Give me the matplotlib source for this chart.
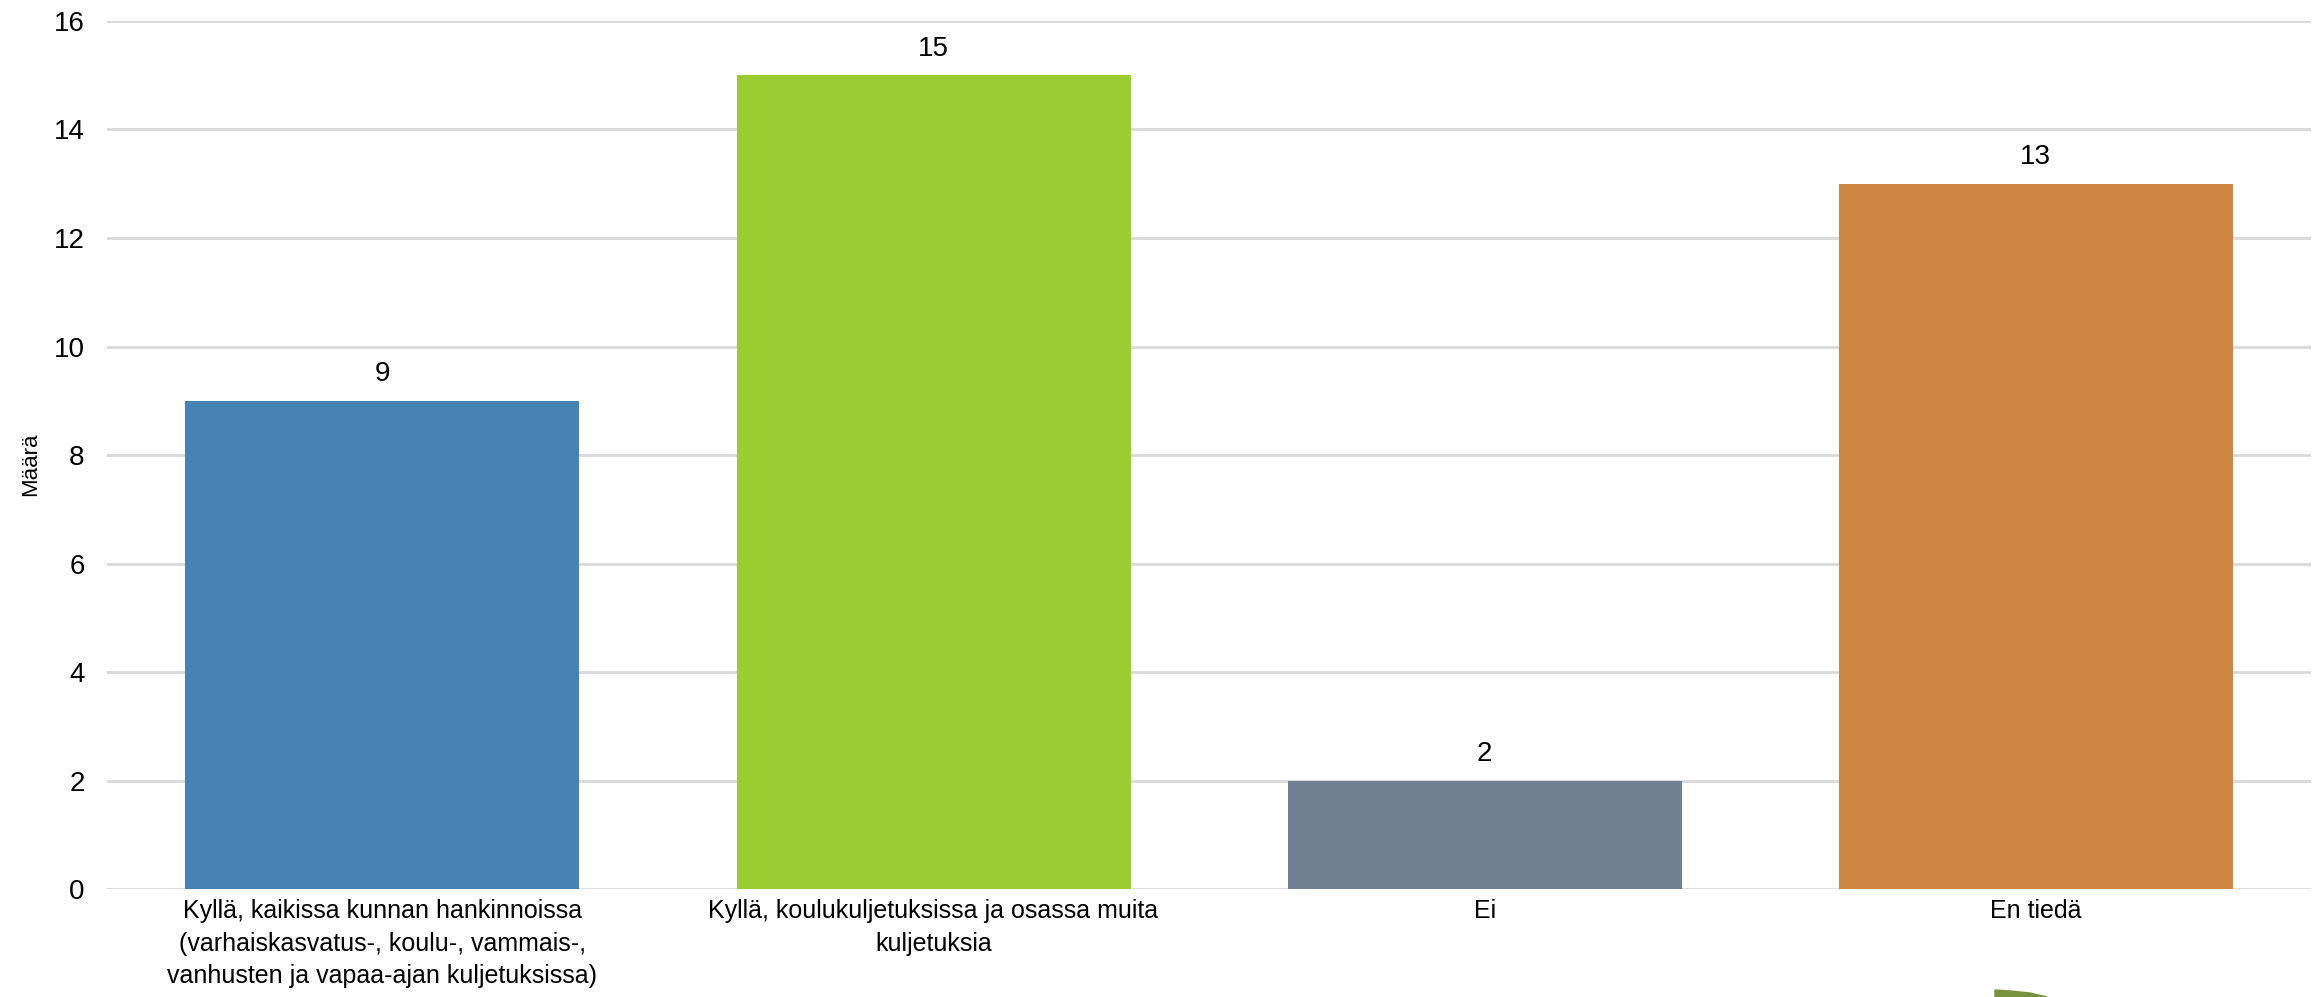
import matplotlib.pyplot as plt
import numpy as np
from matplotlib.patches import Polygon

categories = [
    "Kyllä, kaikissa kunnan hankinnoissa\n(varhaiskasvatus-, koulu-, vammais-,\nvanhusten ja vapaa-ajan kuljetuksissa)",
    "Kyllä, koulukuljetuksissa ja osassa muita\nkuljetuksia",
    "Ei",
    "En tiedä",
]
values = [9, 15, 2, 13]
colors = ["#4682B4", "#9ACD32", "#708090", "#CD853F"]
yticks = [0, 2, 4, 6, 8, 10, 12, 14, 16]

plt.rcParams['font.family'] = ['Liberation Sans', 'DejaVu Sans']

fig = plt.figure(figsize=(23.23, 9.97), dpi=100)
ax = fig.add_axes([0.046, 0.108, 0.949, 0.871])

x = np.arange(len(categories))
bars = ax.bar(x, values, width=0.715, color=colors, zorder=3)

# value labels above bars
for b, v in zip(bars, values):
    ax.annotate(str(v), (b.get_x() + b.get_width() / 2, v),
                xytext=(0, 19), textcoords='offset points',
                ha='center', va='center', fontsize=20, color='#000000')

ax.set_xlim(-0.5, len(categories) - 0.5)
ax.set_ylim(0, 16)
ax.set_yticks(yticks)
ax.set_yticklabels([str(t) for t in yticks], fontsize=20)
ax.set_xticks(x)
ax.set_xticklabels(categories, fontsize=18, linespacing=1.45)
ax.tick_params(axis='both', length=0)
ax.tick_params(axis='x', pad=7)
ax.tick_params(axis='y', pad=16)

ax.set_ylabel("Määrä", fontsize=16)
ax.yaxis.set_label_coords(-0.030, 0.49)

ax.grid(axis='y', color='#D9D9D9', linewidth=2, zorder=0)
for s in ax.spines.values():
    s.set_visible(False)

# small logo fragment at the bottom edge
W, H = 2323, 997
pts = [(1995, 990), (2010, 991), (2030, 993), (2047, 997), (1995, 997)]
fig.patches.append(Polygon([(px / W, 1 - py / H) for px, py in pts],
                           closed=True, transform=fig.transFigure,
                           color='#77933C', zorder=5))

fig.savefig("out.png", dpi=100)
